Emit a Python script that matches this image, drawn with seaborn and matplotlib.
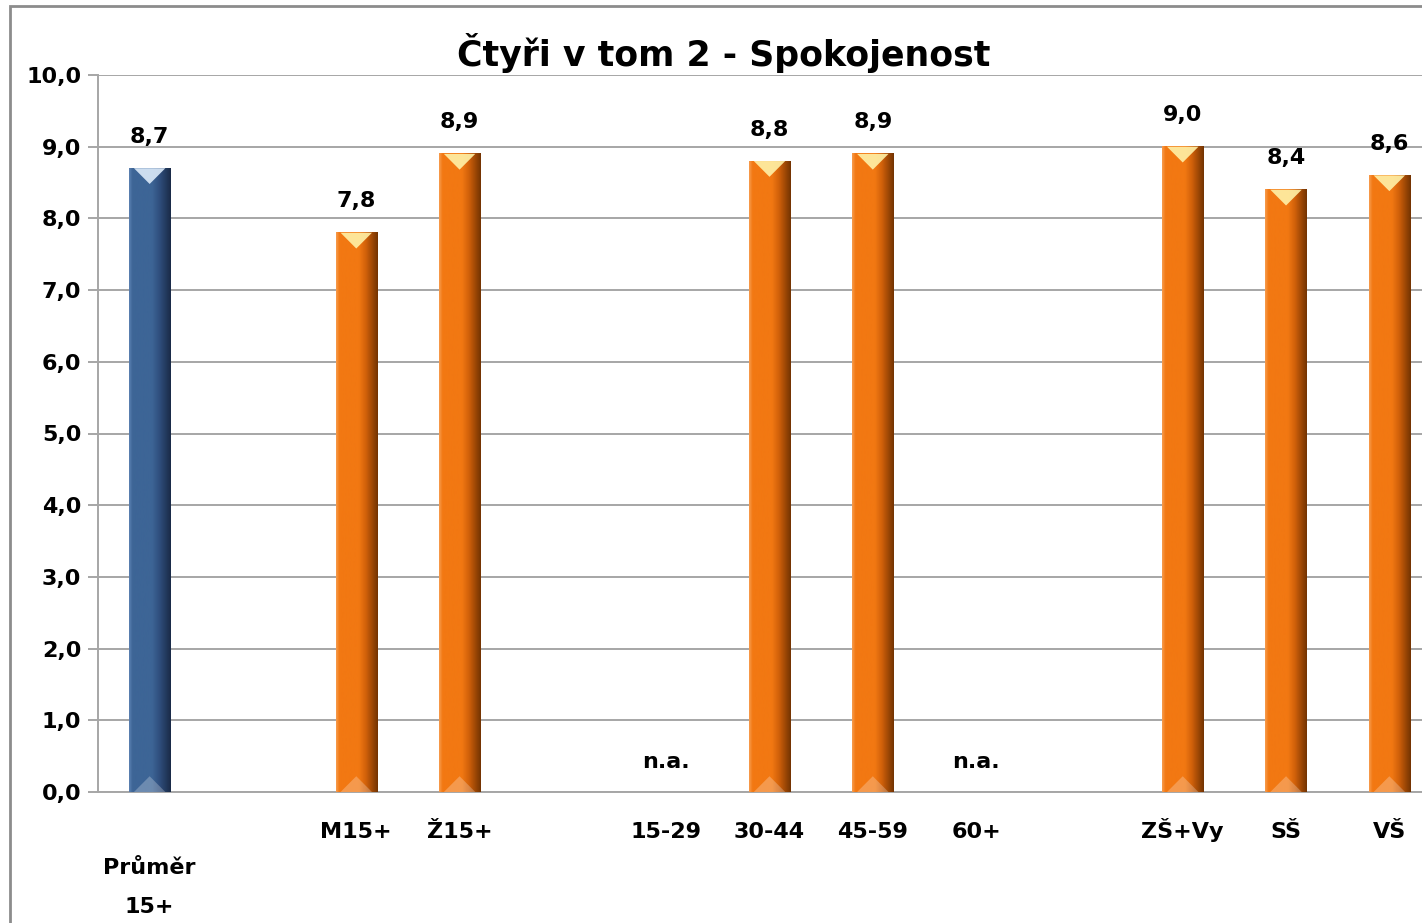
import numpy as np
import pandas as pd
import matplotlib
matplotlib.use("Agg")
import matplotlib.pyplot as plt
import seaborn as sns
from matplotlib.patches import Polygon, Rectangle

# ==========================================
# DATA
# ==========================================
labels = ["Průměr\n15+", "", "M15+", "Ž15+", "", "15-29", "30-44", "45-59",
          "60+", "", "ZŠ+Vy", "SŠ", "VŠ"]
values = [8.7, np.nan, 7.8, 8.9, np.nan, np.nan, 8.8, 8.9,
          np.nan, np.nan, 9.0, 8.4, 8.6]
groups = ["avg", "", "sub", "sub", "", "sub", "sub", "sub",
          "sub", "", "sub", "sub", "sub"]
na_slots = ["15-29", "60+"]
title = "Čtyři v tom 2 - Spokojenost"

slots = [f"s{i}" for i in range(len(labels))]
df = pd.DataFrame({"slot": slots, "value": values, "group": groups})
df_bars = df.dropna(subset=["value"])

# ==========================================
# STYLE
# ==========================================
sns.set_theme(style="white")
plt.rcParams["font.family"] = ["DejaVu Sans"]
plt.rcParams["font.weight"] = "bold"

W, H = 1422, 923
fig = plt.figure(figsize=(W / 100, H / 100), dpi=100)
ax = fig.add_axes([98 / W, (H - 792) / H, (1441 - 98) / W, (792 - 75) / H])

palette = {"avg": "#3D6596", "sub": "#F27812"}
sns.barplot(data=df_bars, x="slot", y="value", hue="group", order=slots,
            palette=palette, width=0.4, dodge=False, legend=False,
            saturation=1, ax=ax, zorder=3, linewidth=0)

ax.set_ylim(0, 10)
ax.set_xlim(-0.5, len(slots) - 0.5)
ax.set_yticks(np.arange(0, 10.01, 1))
ax.set_yticklabels([f"{v:.1f}".replace(".", ",") for v in np.arange(0, 10.01, 1)],
                   fontsize=16, fontweight="bold", color="black")
ax.yaxis.grid(True, color="#A6A6A6", linewidth=1.4, zorder=0)
ax.set_axisbelow(True)

# single-line labels as ticks, the two-line average label drawn lower
tick_labels = ["" if "\n" in lab else lab for lab in labels]
ax.set_xticks(range(len(slots)))
ax.set_xticklabels(tick_labels, fontsize=16, fontweight="bold", color="black")
ax.set_xticks(np.arange(-0.5, len(slots) - 0.4, 1), minor=True)
ax.tick_params(axis="x", which="major", length=0, pad=33)
ax.tick_params(axis="x", which="minor", length=7, width=1.4, color="#A6A6A6")
ax.tick_params(axis="y", length=7, width=1.4, color="#A6A6A6", pad=5, left=True)
for t in ax.get_xticklabels():
    t.set_verticalalignment("baseline")
for i, lab in enumerate(labels):
    if "\n" in lab:
        ax.annotate(lab, (i, 0), xycoords=("data", "axes fraction"),
                    xytext=(0, -87), textcoords="offset points", ha="center",
                    va="baseline", fontsize=16, fontweight="bold",
                    color="black", linespacing=2.15, annotation_clip=False)
ax.set_xlabel("")
ax.set_ylabel("")
for s in ["top", "right"]:
    ax.spines[s].set_visible(False)
for s in ["left", "bottom"]:
    ax.spines[s].set_color("#A6A6A6")
    ax.spines[s].set_linewidth(1.4)

# Gradient shading on bars (Excel-like cylinder look)
shades = {
    "avg": ["#5A7FB0", "#3D6596", "#3D6596", "#30507F", "#1A2B48"],
    "sub": ["#F79A4A", "#F27812", "#F27812", "#D0600A", "#743402"],
}
tops = {"avg": "#DDEBFA", "sub": "#FFF2A8"}
for patch, grp in zip(ax.patches, df_bars["group"]):
    x0, w, h = patch.get_x(), patch.get_width(), patch.get_height()
    cmap = matplotlib.colors.LinearSegmentedColormap.from_list(
        "g", list(zip([0, 0.08, 0.55, 0.72, 1.0], shades[grp])))
    ax.imshow(np.linspace(0, 1, 64).reshape(1, -1), cmap=cmap,
              extent=[x0, x0 + w, 0, h], aspect="auto", zorder=3.5,
              clip_path=patch, clip_on=True)
    d = 0.22
    ax.add_patch(Polygon([(x0 + w * 0.12, h), (x0 + w * 0.88, h), (x0 + w / 2, h - d)],
                         closed=True, facecolor=tops[grp], alpha=0.9,
                         edgecolor="none", zorder=4))
    ax.add_patch(Polygon([(x0 + w * 0.12, 0), (x0 + w * 0.88, 0), (x0 + w / 2, d)],
                         closed=True, facecolor="white", alpha=0.25,
                         edgecolor="none", zorder=4))
    ax.annotate(f"{h:.1f}".replace(".", ","), (x0 + w / 2, h),
                xytext=(0, 15.5), textcoords="offset points", ha="center",
                va="bottom", fontsize=16, fontweight="bold", color="black")

ax.set_xlim(-0.5, len(slots) - 0.5)
ax.set_ylim(0, 10)

for lab in na_slots:
    ax.text(labels.index(lab), 0.42, "n.a.", ha="center", va="center",
            fontsize=16, fontweight="bold", color="black")

fig.text(724 / W, 1 - 53 / H, title, ha="center", va="center",
         fontsize=25, fontweight="bold", color="black")

# chart frame
fig.patches.append(Rectangle((10 / W, -0.05), 1.1, 1 - 6 / H + 0.05,
                             transform=fig.transFigure, fill=False,
                             edgecolor="#8C8C8C", linewidth=2))

fig.savefig("out.png", dpi=100)
